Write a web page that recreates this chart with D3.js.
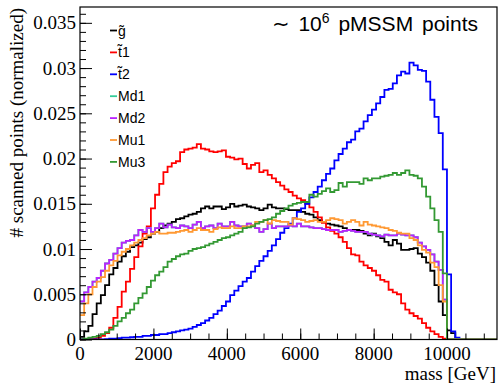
<!DOCTYPE html>
<html><head><meta charset="utf-8">
<script src="https://cdn.jsdelivr.net/npm/d3@7"></script>
<style>
body{margin:0;background:#fff;}
svg{display:block;}
</style></head>
<body>
<script>
// ---- data ----
const xMax = 11360;
const nBins = 100;
const seriesNames = ["g\u0303", "t\u03031", "t\u03032", "Md1", "Md2", "Mu1", "Mu3"];
const seriesColors = ["#000000", "#ff0000", "#0000ff", "#33cc99", "#bb22ff", "#ff9933", "#339933"];
const yTickValues = [0, 0.005, 0.01, 0.015, 0.02, 0.025, 0.03, 0.035];
const yTickLabels = ["0", "0.005", "0.01", "0.015", "0.02", "0.025", "0.03", "0.035"];
const xTickValues = [0, 2000, 4000, 6000, 8000, 10000];
const xTickLabels = ["0", "2000", "4000", "6000", "8000", "10000"];

const gluino = [0.0003,0.0009,0.0015,0.0028,0.0040,0.0049,0.0060,0.0072,0.0079,0.0086,0.0092,0.0097,0.0102,0.0104,0.0107,0.0111,0.0113,0.0117,0.0119,0.0123,0.0126,0.0128,0.0130,0.0133,0.0134,0.0136,0.0138,0.0139,0.0141,0.0145,0.0147,0.0145,0.0147,0.0147,0.0144,0.0146,0.0150,0.0147,0.0148,0.0149,0.0147,0.0146,0.0145,0.0143,0.0145,0.0149,0.0146,0.0145,0.0145,0.0144,0.0143,0.0143,0.0143,0.0141,0.0139,0.0138,0.0135,0.0132,0.0130,0.0128,0.0127,0.0126,0.0125,0.0123,0.0121,0.0121,0.0121,0.0120,0.0117,0.0115,0.0117,0.0114,0.0112,0.0108,0.0104,0.0110,0.0106,0.0099,0.0099,0.0100,0.0101,0.0095,0.0091,0.0085,0.0076,0.0060,0.0042,0.0027,0.0010,0.0007];
const stop1 = [0,0,0.0001,0.0001,0.0002,0.0004,0.0007,0.0013,0.0024,0.0036,0.0053,0.0064,0.0078,0.0091,0.0103,0.0117,0.0125,0.0145,0.0160,0.0172,0.0185,0.0191,0.0195,0.0197,0.0207,0.0210,0.0211,0.0212,0.0216,0.0211,0.0210,0.0208,0.0207,0.0208,0.0209,0.0202,0.0201,0.0199,0.0200,0.0194,0.0189,0.0193,0.0195,0.0185,0.0187,0.0182,0.0178,0.0174,0.0170,0.0166,0.0163,0.0159,0.0156,0.0154,0.0150,0.0146,0.0141,0.0135,0.0129,0.0124,0.0120,0.0117,0.0113,0.0108,0.0101,0.0094,0.0093,0.0086,0.0082,0.0079,0.0076,0.0071,0.0066,0.0064,0.0055,0.0052,0.0050,0.0040,0.0033,0.0029,0.0026,0.0023,0.0018,0.0013,0.0009,0.0006,0.0003,0.0001];
const stop2 = [0,0,0,0,0,0,0.00005,0.0001,0.0001,0.00015,0.0002,0.0002,0.00025,0.0003,0.0003,0.0004,0.0004,0.0005,0.0005,0.0006,0.0006,0.0007,0.0008,0.0009,0.0010,0.0011,0.0012,0.0014,0.0016,0.0018,0.0021,0.0024,0.0028,0.0032,0.0037,0.0042,0.0049,0.0054,0.0059,0.0064,0.0068,0.0075,0.0081,0.0087,0.0092,0.0098,0.0104,0.0111,0.0118,0.0123,0.0128,0.0134,0.0141,0.0145,0.0150,0.0157,0.0163,0.0169,0.0176,0.0183,0.0189,0.0198,0.0205,0.0211,0.0218,0.0221,0.0230,0.0233,0.0241,0.0248,0.0254,0.0261,0.0268,0.0276,0.0277,0.0283,0.0292,0.0296,0.0294,0.0306,0.0303,0.0298,0.0297,0.0285,0.0265,0.0246,0.0228,0.0188,0.0072,0.0009,0.0002];
const md1 = [0.0042,0.0052,0.0058,0.0064,0.0068,0.0076,0.0084,0.0088,0.0095,0.0101,0.0107,0.0109,0.0110,0.0115,0.0121,0.0119,0.0123,0.0119,0.0123,0.0128,0.0124,0.0127,0.0124,0.0123,0.0126,0.0125,0.0123,0.0127,0.0130,0.0123,0.0125,0.0126,0.0123,0.0128,0.0125,0.0125,0.0130,0.0126,0.0125,0.0125,0.0128,0.0126,0.0123,0.0119,0.0122,0.0128,0.0123,0.0125,0.0125,0.0125,0.0126,0.0125,0.0128,0.0125,0.0125,0.0124,0.0123,0.0123,0.0122,0.0121,0.0121,0.0121,0.0119,0.0120,0.0121,0.0120,0.0119,0.0119,0.0119,0.0117,0.0116,0.0115,0.0114,0.0116,0.0115,0.0115,0.0117,0.0116,0.0115,0.0115,0.0113,0.0107,0.0103,0.0099,0.0094,0.0086,0.0077,0.0044];
const md2 = [0.0042,0.0052,0.0058,0.0064,0.0068,0.0076,0.0084,0.0088,0.0095,0.0101,0.0107,0.0109,0.0110,0.0115,0.0121,0.0119,0.0123,0.0119,0.0123,0.0128,0.0124,0.0127,0.0124,0.0123,0.0126,0.0125,0.0123,0.0127,0.0130,0.0123,0.0125,0.0126,0.0123,0.0128,0.0125,0.0125,0.0130,0.0126,0.0125,0.0125,0.0128,0.0126,0.0123,0.0119,0.0122,0.0128,0.0123,0.0125,0.0125,0.0125,0.0126,0.0125,0.0128,0.0125,0.0125,0.0124,0.0123,0.0123,0.0122,0.0121,0.0121,0.0121,0.0119,0.0120,0.0121,0.0120,0.0119,0.0119,0.0119,0.0117,0.0116,0.0115,0.0114,0.0116,0.0115,0.0115,0.0117,0.0116,0.0115,0.0115,0.0113,0.0107,0.0103,0.0099,0.0094,0.0086,0.0077,0.0044];
const mu1 = [0.0027,0.0040,0.0050,0.0058,0.0064,0.0069,0.0076,0.0082,0.0087,0.0093,0.0097,0.0100,0.0104,0.0107,0.0110,0.0112,0.0115,0.0117,0.0119,0.0117,0.0117,0.0118,0.0118,0.0119,0.0120,0.0121,0.0119,0.0121,0.0123,0.0121,0.0121,0.0119,0.0122,0.0124,0.0123,0.0123,0.0125,0.0123,0.0123,0.0125,0.0125,0.0126,0.0130,0.0130,0.0132,0.0128,0.0132,0.0131,0.0130,0.0130,0.0127,0.0134,0.0133,0.0132,0.0130,0.0131,0.0132,0.0130,0.0130,0.0132,0.0134,0.0133,0.0132,0.0128,0.0130,0.0132,0.0130,0.0126,0.0130,0.0127,0.0126,0.0125,0.0124,0.0123,0.0121,0.0120,0.0118,0.0117,0.0117,0.0112,0.0110,0.0104,0.0099,0.0096,0.0085,0.0080,0.0060,0.0042];
const mu3 = [0,0.0001,0.0002,0.0003,0.0004,0.0006,0.0008,0.0011,0.0015,0.0020,0.0024,0.0029,0.0033,0.0040,0.0046,0.0051,0.0058,0.0065,0.0071,0.0075,0.0080,0.0086,0.0089,0.0092,0.0094,0.0095,0.0098,0.0100,0.0101,0.0102,0.0104,0.0106,0.0108,0.0110,0.0112,0.0113,0.0115,0.0117,0.0119,0.0123,0.0124,0.0125,0.0128,0.0130,0.0132,0.0133,0.0135,0.0139,0.0142,0.0145,0.0148,0.0150,0.0151,0.0152,0.0152,0.0160,0.0158,0.0161,0.0164,0.0167,0.0163,0.0165,0.0173,0.0169,0.0174,0.0174,0.0174,0.0172,0.0178,0.0176,0.0178,0.0178,0.0180,0.0181,0.0182,0.0184,0.0182,0.0184,0.0187,0.0182,0.0181,0.0178,0.0169,0.0158,0.0145,0.0132,0.0119,0.0073];
const seriesValues = [gluino, stop1, stop2, md1, md2, mu1, mu3];

(function () {
// ---- layout ----
const W = 499, H = 384;
const pLeft = 80, pRight = 497, pTop = 7, pBottom = 339.5;

const svg = d3.select("body").append("svg").attr("width", W).attr("height", H);
const x = d3.scaleLinear().domain([0, xMax]).range([pLeft, pRight]);
const y = d3.scaleLinear().domain([0, 0.03675]).range([pBottom, pTop]);
const binW = xMax / nBins;

svg.append("defs").append("clipPath").attr("id", "clip")
  .append("rect").attr("x", pLeft).attr("y", pTop).attr("width", pRight - pLeft).attr("height", pBottom - pTop);

const line = d3.line().x(d => x(d[0])).y(d => y(d[1])).curve(d3.curveStepAfter);
const hg = svg.append("g").attr("clip-path", "url(#clip)");
seriesValues.forEach((vals, k) => {
  const pts = [];
  for (let i = 0; i < nBins; i++) pts.push([i * binW, i < vals.length ? vals[i] : 0]);
  pts.push([xMax, pts[pts.length - 1][1]]);
  hg.append("path").attr("d", line(pts)).attr("fill", "none")
    .attr("stroke", seriesColors[k]).attr("stroke-width", 1.8).attr("stroke-linejoin", "miter");
});

// frame
svg.append("rect").attr("x", pLeft).attr("y", pTop).attr("width", pRight - pLeft).attr("height", pBottom - pTop)
  .attr("fill", "none").attr("stroke", "#000").attr("stroke-width", 1.2);

// y axis ticks
const yAxis = d3.axisRight(y).tickValues(d3.range(0, 0.0365, 0.001)).tickSize(6).tickFormat("");
const yg = svg.append("g").attr("transform", `translate(${pLeft},0)`).call(yAxis);
yg.select(".domain").remove();
yg.selectAll(".tick line").attr("stroke", "#000");
const yMajor = d3.axisRight(y).tickValues(yTickValues).tickSize(12).tickFormat("");
const ym = svg.append("g").attr("transform", `translate(${pLeft},0)`).call(yMajor);
ym.select(".domain").remove();
ym.selectAll(".tick line").attr("stroke", "#000");
svg.selectAll(null).data(yTickValues).enter().append("text")
  .attr("x", 76).attr("y", d => y(d)).attr("dy", "0.35em").attr("text-anchor", "end")
  .attr("font-family", "Liberation Serif, Times New Roman, serif").attr("font-size", 19)
  .text((d, i) => yTickLabels[i]);

// x axis ticks
const xAxis = d3.axisTop(x).tickValues(d3.range(0, xMax, 500)).tickSize(6).tickFormat("");
const xg = svg.append("g").attr("transform", `translate(0,${pBottom})`).call(xAxis);
xg.select(".domain").remove();
xg.selectAll(".tick line").attr("stroke", "#000");
const xMajor = d3.axisTop(x).tickValues(xTickValues).tickSize(11).tickFormat("");
const xm = svg.append("g").attr("transform", `translate(0,${pBottom})`).call(xMajor);
xm.select(".domain").remove();
xm.selectAll(".tick line").attr("stroke", "#000");
svg.selectAll(null).data(xTickValues).enter().append("text")
  .attr("x", d => x(d)).attr("y", 359.5).attr("text-anchor", "middle")
  .attr("font-family", "Liberation Serif, Times New Roman, serif").attr("font-size", 19)
  .text((d, i) => xTickLabels[i]);

// axis titles
svg.append("text").attr("x", 496).attr("y", 380).attr("text-anchor", "end")
  .attr("font-family", "Liberation Serif, Times New Roman, serif").attr("font-size", 19)
  .text("mass [GeV]");
svg.append("text").attr("transform", "translate(23,8) rotate(-90)").attr("text-anchor", "end")
  .attr("font-family", "Liberation Serif, Times New Roman, serif").attr("font-size", 19)
  .text("# scanned points (normalized)");

// title
const t = svg.append("text").attr("x", 478).attr("y", 31).attr("text-anchor", "end")
  .attr("font-family", "Liberation Sans, Arial, sans-serif").attr("font-size", 21)
  .attr("word-spacing", 3);
t.append("tspan").text("\u223C 10");
t.append("tspan").attr("font-size", 14).attr("dy", -8).text("6");
t.append("tspan").attr("dy", 8).text(" pMSSM points");

// legend
const lg = svg.append("g");
seriesNames.forEach((name, i) => {
  const by = 35.5 + i * 21.9;
  lg.append("line").attr("x1", 110).attr("x2", 117).attr("y1", by - 5).attr("y2", by - 5)
    .attr("stroke", seriesColors[i]).attr("stroke-width", 1.8);
  lg.append("text").attr("x", 118).attr("y", by)
    .attr("font-family", "Liberation Sans, Arial, sans-serif").attr("font-size", 14)
    .text(name);
});
})();
</script>
</body></html>
